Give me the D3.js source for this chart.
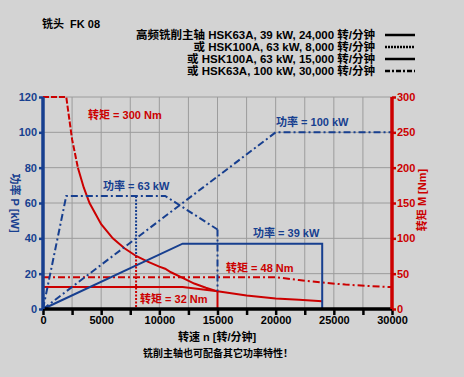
<!DOCTYPE html>
<html>
<head>
<meta charset="utf-8">
<script src="https://cdn.jsdelivr.net/npm/d3@7"></script>
<style>
	body { margin: 0; background: #d3d3d3; }
	svg { display: block; font-family: 'Liberation Sans', Arial, 'Noto Sans CJK SC', sans-serif; }
</style>
</head>
<body>
<svg></svg>
<script>
const w = 464;
const h = 377;

// chart data
const rpmTicks = [0, 5000, 10000, 15000, 20000, 25000, 30000];
const powerTicks = [0, 20, 40, 60, 80, 100, 120];
const torqueTicks = [0, 50, 100, 150, 200, 250, 300];

const legendLabels = [
	'高频铣削主轴 HSK63A, 39 kW, 24,000 转/分钟',
	'或 HSK100A, 63 kW, 8,000 转/分钟',
	'或 HSK100A, 63 kW, 15,000 转/分钟',
	'或 HSK63A, 100 kW, 30,000 转/分钟',
];

// power curves [rpm, kW]
const power39 = [[0, 0], [12000, 37], [24000, 37], [24000, 0]];
const power63 = [[0, 0], [2000, 64], [10500, 64], [15000, 45]];
const power100 = [[0, 0], [20000, 100], [30000, 100]];

// torque curves [rpm, Nm]
const torque300Top = [[0, 300], [2000, 300], [2500, 240], [3000, 200]];
const torque300 = [
	[3000, 200], [3500, 172], [4000, 150], [5000, 120], [6000, 100], [7000, 86],
	[8000, 75], [9000, 67], [10000, 60], [10500, 57], [11000, 52], [12000, 44],
	[13000, 36], [14000, 30], [15000, 25],
];
const torque48 = [[0, 45], [20000, 45], [22000, 41], [24000, 37.5], [26000, 34.5], [28000, 32.5], [30000, 31]];
const torque32 = [[0, 31], [12000, 31], [15000, 25], [17500, 19], [20000, 15], [22000, 13], [24000, 11]];

// speed limits: where the power line drops, and where it meets the torque curve
const limits = [
	{ n: 8000, kW: 64, Nm: 75 },
	{ n: 15000, kW: 45, Nm: 25 },
];

const blue = '#173f8f';
const red = '#cc0000';
const dashDot = '7,3,2,3';
const dotted = '2,1.5';

let canvas = d3.select('svg').attr('width', w).attr('height', h);

const xScale = d3.scaleLinear().domain([0, 30000]).range([43, 392]);
const pScale = d3.scaleLinear().domain([0, 120]).range([309, 97]);
const mScale = d3.scaleLinear().domain([0, 300]).range([309, 97]);

const pLine = d3.line().x((d) => xScale(d[0])).y((d) => pScale(d[1]));
const mLine = d3.line().x((d) => xScale(d[0])).y((d) => mScale(d[1]));

const drawGrid = () => {
	const g = canvas.append('g').attr('stroke', '#9c9c9c').attr('stroke-width', 1);
	g.selectAll('.vg')
		.data(d3.range(2500, 30000, 2500))
		.enter()
		.append('line')
		.attr('x1', (d) => xScale(d))
		.attr('x2', (d) => xScale(d))
		.attr('y1', pScale(120))
		.attr('y2', pScale(0));
	g.selectAll('.hg')
		.data(powerTicks.slice(1))
		.enter()
		.append('line')
		.attr('x1', xScale(0))
		.attr('x2', xScale(30000))
		.attr('y1', (d) => pScale(d))
		.attr('y2', (d) => pScale(d));
};

const path = (data, line, color, dash) => {
	canvas
		.append('path')
		.datum(data)
		.attr('d', line)
		.attr('fill', 'none')
		.attr('stroke', color)
		.attr('stroke-width', 2)
		.attr('stroke-dasharray', dash);
};

const drawCurves = () => {
	// torque (red)
	path(torque32, mLine, red, null);
	path(torque48, mLine, red, dashDot);
	path(torque300Top, mLine, red, '6,2');
	path(torque300, mLine, red, null);

	// power (blue)
	path(power39, pLine, blue, null);
	path(power63, pLine, blue, dashDot);
	path(power100, pLine, blue, dashDot);

	const styles = [dotted, dashDot];
	const redStyles = [dotted, null];
	limits.forEach((l, i) => {
		canvas
			.append('line')
			.attr('x1', xScale(l.n))
			.attr('x2', xScale(l.n))
			.attr('y1', pScale(l.kW))
			.attr('y2', mScale(l.Nm))
			.attr('stroke', blue)
			.attr('stroke-width', 2)
			.attr('stroke-dasharray', styles[i]);
		canvas
			.append('line')
			.attr('x1', xScale(l.n))
			.attr('x2', xScale(l.n))
			.attr('y1', mScale(l.Nm))
			.attr('y2', mScale(0))
			.attr('stroke', red)
			.attr('stroke-width', 2)
			.attr('stroke-dasharray', redStyles[i]);
	});
};

const drawAxes = () => {
	let xAxis = d3.axisBottom(xScale).tickValues(d3.range(0, 30001, 2500)).tickSize(6).tickFormat((d) => (d % 5000 === 0 ? d : ''));
	let pAxis = d3.axisLeft(pScale).tickValues(powerTicks).tickSize(4).tickPadding(2);
	let mAxis = d3.axisRight(mScale).tickValues(torqueTicks).tickSize(4).tickPadding(1);

	const gx = canvas.append('g').attr('transform', `translate(0, ${pScale(0)})`).call(xAxis);
	gx.select('.domain').attr('stroke', '#000').attr('stroke-width', 3.5).attr('d', `M${xScale(0)},0H${xScale(30000)}`);
	gx.selectAll('.tick line').attr('stroke', '#000').attr('stroke-width', 2.5);
	gx.selectAll('.tick text').attr('fill', '#000').attr('font-size', 11).attr('font-weight', 'bold').attr('dy', '0.55em');

	const gp = canvas.append('g').attr('transform', `translate(${xScale(0)}, 0)`).call(pAxis);
	gp.select('.domain').attr('stroke', blue).attr('stroke-width', 3.5).attr('d', `M0,${pScale(0)}V${pScale(120)}`);
	gp.selectAll('.tick line').attr('stroke', blue).attr('stroke-width', 2.5);
	gp.selectAll('.tick text').attr('fill', blue).attr('font-size', 11).attr('font-weight', 'bold');

	const gm = canvas.append('g').attr('transform', `translate(${xScale(30000)}, 0)`).call(mAxis);
	gm.select('.domain').attr('stroke', red).attr('stroke-width', 3.5).attr('d', `M0,${mScale(0)}V${mScale(300)}`);
	gm.selectAll('.tick line').attr('stroke', red).attr('stroke-width', 2.5);
	gm.selectAll('.tick text').attr('fill', red).attr('font-size', 11).attr('font-weight', 'bold');

	canvas
		.append('text')
		.attr('transform', `translate(11, 203) rotate(90)`)
		.attr('text-anchor', 'middle')
		.attr('fill', blue)
		.attr('font-size', 11)
		.attr('font-weight', 'bold')
		.text('功率 P [kW]');

	canvas
		.append('text')
		.attr('transform', `translate(426, 200) rotate(-90)`)
		.attr('text-anchor', 'middle')
		.attr('fill', red)
		.attr('font-size', 11)
		.attr('font-weight', 'bold')
		.text('转矩 M [Nm]');

	canvas
		.append('text')
		.attr('x', 217)
		.attr('y', 341)
		.attr('text-anchor', 'middle')
		.attr('font-size', 11)
		.attr('font-weight', 'bold')
		.text('转速 n [转/分钟]');

	canvas
		.append('text')
		.attr('x', 218)
		.attr('y', 357)
		.attr('text-anchor', 'middle')
		.attr('font-size', 10)
		.attr('font-weight', 'bold')
		.text('铣削主轴也可配备其它功率特性！');
};

const drawLabels = () => {
	const labels = [
		{ text: '转矩 = 300 Nm', x: 88, y: 119, c: red },
		{ text: '功率 = 100 kW', x: 276, y: 126, c: blue },
		{ text: '功率 = 63 kW', x: 103, y: 190, c: blue },
		{ text: '功率 = 39 kW', x: 253, y: 237, c: blue },
		{ text: '转矩 = 48 Nm', x: 226, y: 272, c: red },
		{ text: '转矩 = 32 Nm', x: 140, y: 303, c: red },
	];
	canvas
		.selectAll('.lbl')
		.data(labels)
		.enter()
		.append('text')
		.attr('x', (d) => d.x)
		.attr('y', (d) => d.y)
		.attr('fill', (d) => d.c)
		.attr('font-size', 11)
		.attr('font-weight', 'bold')
		.text((d) => d.text);
};

const drawLegend = () => {
	canvas
		.append('text')
		.attr('x', 42)
		.attr('y', 28)
		.attr('font-size', 11)
		.attr('font-weight', 'bold')
		.attr('xml:space', 'preserve')
		.text('铣头  FK 08');

	const swatch = [null, '2,1', null, '5,2,2,2'];
	legendLabels.forEach((t, i) => {
		const y = 39 + i * 12;
		canvas
			.append('text')
			.attr('x', 375)
			.attr('y', y)
			.attr('text-anchor', 'end')
			.attr('font-size', 11.5)
			.attr('font-weight', 'bold')
			.text(t);
		canvas
			.append('line')
			.attr('x1', 385)
			.attr('x2', 415)
			.attr('y1', y - 4)
			.attr('y2', y - 4)
			.attr('stroke', '#000')
			.attr('stroke-width', 2.5)
			.attr('stroke-dasharray', swatch[i]);
	});
};

drawGrid();
drawCurves();
drawAxes();
drawLabels();
drawLegend();
</script>
</body>
</html>
